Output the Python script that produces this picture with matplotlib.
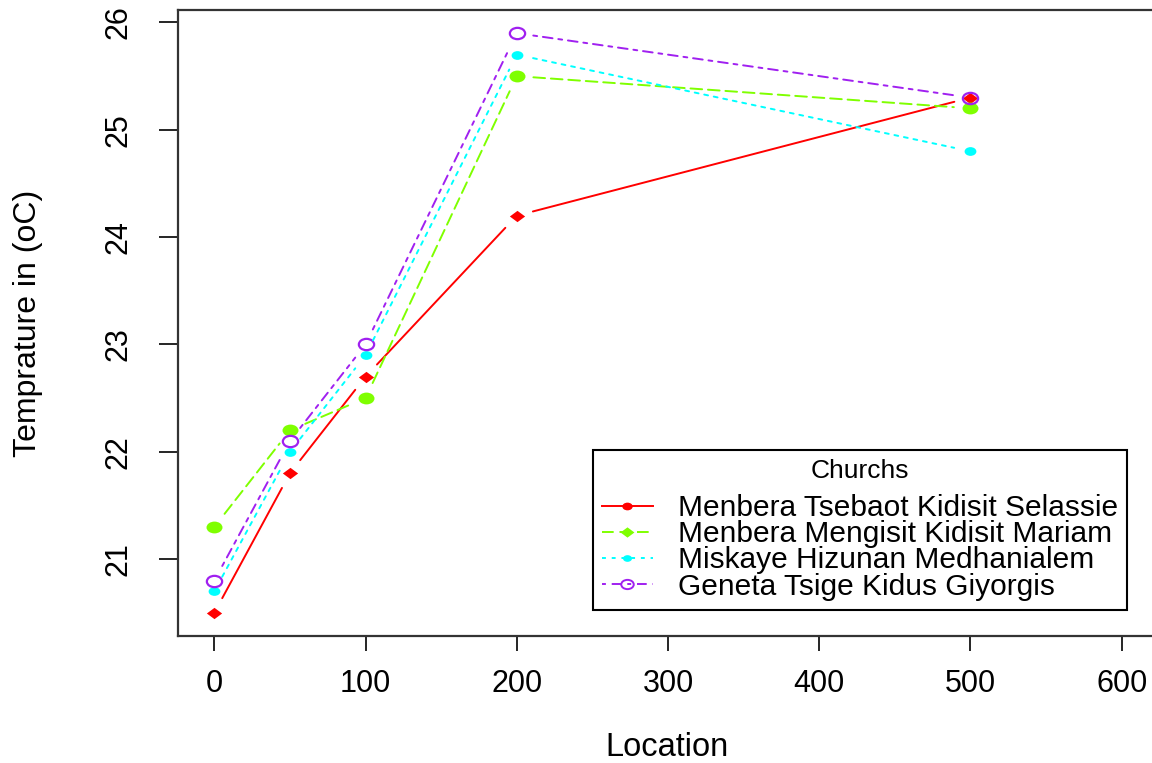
import matplotlib
matplotlib.use("Agg")
import matplotlib.pyplot as plt
from matplotlib.path import Path
from matplotlib.transforms import Affine2D
from matplotlib.lines import Line2D

# ---- data ----
locations = [0, 50, 100, 200, 500]
selassie = [20.5, 21.8, 22.7, 24.2, 25.3]
mariam = [21.3, 22.2, 22.5, 25.5, 25.2]
medhanialem = [20.7, 22.0, 22.9, 25.7, 24.8]
giyorgis = [20.8, 22.1, 23.0, 25.9, 25.3]
series_names = ["Menbera Tsebaot Kidisit Selassie",
                "Menbera Mengisit Kidisit Mariam",
                "Miskaye Hizunan Medhanialem",
                "Geneta Tsige Kidus Giyorgis"]
x_ticks = [0, 100, 200, 300, 400, 500, 600]
y_ticks = [21, 22, 23, 24, 25, 26]

plt.rcParams['font.family'] = ['Liberation Sans', 'DejaVu Sans']

W, H = 1152, 763
fig = plt.figure(figsize=(W / 100, H / 100), dpi=100)
ax = fig.add_axes([178 / W, (H - 636) / H, 980 / W, 626 / H])

# horizontally stretched markers (as in the reference)
sx = 1.35
ellipse = Path.unit_circle().transformed(Affine2D().scale(sx, 1.0))
diamond = Path([(0, -1), (sx, 0), (0, 1), (-sx, 0), (0, -1)],
               [Path.MOVETO, Path.LINETO, Path.LINETO, Path.LINETO, Path.CLOSEPOLY])

styles = [
    dict(color='#FF0000', ls='-', marker=diamond, ms=11, mfc='#FF0000', mew=0),
    dict(color='#7FFF00', ls=(0, (6, 3)), marker=ellipse, ms=11.5, mfc='#7FFF00', mew=0),
    dict(color='#00FFFF', ls=(0, (2, 3)), marker=ellipse, ms=8.5, mfc='#00FFFF', mew=0),
    dict(color='#A020F0', ls=(0, (2, 3, 5, 3)), marker=ellipse, ms=11, mfc='none', mew=1.6),
]
# legend markers as drawn in the reference key
legend_markers = [
    dict(marker=ellipse, ms=7.5, mfc='#FF0000', mew=0),
    dict(marker=diamond, ms=10, mfc='#7FFF00', mew=0),
    dict(marker=ellipse, ms=6.5, mfc='#00FFFF', mew=0),
    dict(marker=ellipse, ms=9, mfc='none', mew=1.4),
]
all_series = [selassie, mariam, medhanialem, giyorgis]
lw = 1.4

for vals, st in zip(all_series, styles):
    # line segments with gaps around points (R type = "b")
    for i in range(len(locations) - 1):
        ax.annotate('', xy=(locations[i + 1], vals[i + 1]), xytext=(locations[i], vals[i]),
                    xycoords='data', textcoords='data',
                    arrowprops=dict(arrowstyle='-', color=st['color'], lw=lw,
                                    linestyle=st['ls'], shrinkA=12, shrinkB=12))
    ax.plot(locations, vals, linestyle='none', marker=st['marker'], ms=st['ms'],
            mfc=st['mfc'], mec=st['color'], mew=st['mew'])

ax.set_xlim(-24, 624)
ax.set_ylim(20.284, 26.116)
ax.set_xticks(x_ticks)
ax.set_yticks(y_ticks)
ax.set_xticklabels([str(v) for v in x_ticks])
ax.set_yticklabels([str(v) for v in y_ticks], rotation=90, va='center')
ax.tick_params(axis='x', direction='out', length=11, width=1.2, pad=13, labelsize=22, colors='black')
ax.tick_params(axis='y', direction='out', length=14, width=1.2, pad=18, labelsize=22, colors='black')
for sp in ax.spines.values():
    sp.set_linewidth(1.6)
    sp.set_color('#333333')

ax.set_xlabel("Location", fontsize=23.5, va='center')
ax.xaxis.set_label_coords((667 - 178) / 980, -(748 - 636) / 626)
ax.set_ylabel("Temprature in (oC)", fontsize=23, va='center')
ax.yaxis.set_label_coords((28 - 178) / 980, 0.5)

handles = [Line2D([], [], color=st['color'], lw=lw, linestyle=st['ls'], marker=lm['marker'],
                  ms=lm['ms'], mfc=lm['mfc'], mec=st['color'], mew=lm['mew'])
           for st, lm in zip(styles, legend_markers)]
leg = ax.legend(handles, series_names, title="Churchs", loc='upper left',
                bbox_to_anchor=(593 / W, 1 - 450 / H), bbox_transform=fig.transFigure,
                borderaxespad=0, fontsize=21.5, title_fontsize=19, fancybox=False,
                edgecolor='black', framealpha=1, handlelength=1.7, handletextpad=0.85,
                borderpad=0.3, labelspacing=-0.06)
leg.get_frame().set_linewidth(1.5)
leg._legend_box.sep = 8

fig.savefig("out.png", dpi=100)
